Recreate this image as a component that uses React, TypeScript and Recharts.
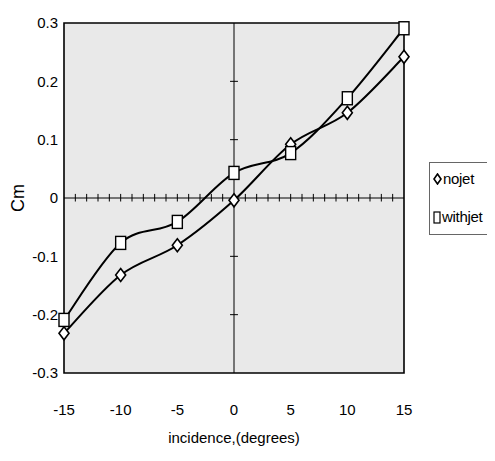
import React from "react";
import {
  LineChart,
  Line,
  XAxis,
  YAxis,
  ReferenceArea,
  ReferenceLine,
} from "recharts";

const incidence = [-15, -10, -5, 0, 5, 10, 15];
const noJet = [-0.232, -0.132, -0.081, -0.004, 0.092, 0.146, 0.242];
const withJet = [-0.209, -0.077, -0.041, 0.043, 0.077, 0.171, 0.291];
const xTicks = [-15, -10, -5, 0, 5, 10, 15];
const yTicks = [-0.3, -0.2, -0.1, 0, 0.1, 0.2, 0.3];
const xMinorTicks = [
  -14, -13, -12, -11, -10, -9, -8, -7, -6, -5, -4, -3, -2, -1, 1, 2, 3, 4, 5, 6,
  7, 8, 9, 10, 11, 12, 13, 14,
];
const yMinorTicks = [-0.2, -0.1, 0.1, 0.2];
const seriesNames = ["nojet", "withjet"];

const data = incidence.map((x, i) => ({ x, noJet: noJet[i], withJet: withJet[i] }));

const FONT = "'Liberation Sans Narrow', 'Liberation Sans', Arial, sans-serif";

// Catmull-Rom style smoothing (like spreadsheet "smoothed line")
const smoothCurve = (context: any) => {
  let pts: number[][] = [];
  return {
    areaStart() {},
    areaEnd() {},
    lineStart() {
      pts = [];
    },
    point(x: number, y: number) {
      pts.push([+x, +y]);
    },
    lineEnd() {
      if (!pts.length) return;
      context.moveTo(pts[0][0], pts[0][1]);
      const t = 1 / 6;
      for (let i = 0; i < pts.length - 1; i++) {
        const p0 = pts[i - 1] || pts[i];
        const p1 = pts[i];
        const p2 = pts[i + 1];
        const p3 = pts[i + 2] || p2;
        context.bezierCurveTo(
          p1[0] + (p2[0] - p0[0]) * t,
          p1[1] + (p2[1] - p0[1]) * t,
          p2[0] - (p3[0] - p1[0]) * t,
          p2[1] - (p3[1] - p1[1]) * t,
          p2[0],
          p2[1]
        );
      }
    },
  };
};

const Diamond = (props: any) => {
  const { cx, cy } = props;
  if (cx == null || cy == null) return <g key={props.key} />;
  return (
    <path
      key={props.key}
      d={`M${cx},${cy - 6.5} L${cx + 5},${cy} L${cx},${cy + 6.5} L${cx - 5},${cy} Z`}
      fill="#fff"
      stroke="#000"
      strokeWidth={1.6}
    />
  );
};

const Square = (props: any) => {
  const { cx, cy } = props;
  if (cx == null || cy == null) return <g key={props.key} />;
  return (
    <rect
      key={props.key}
      x={cx - 5}
      y={cy - 6.5}
      width={10}
      height={13}
      fill="#fff"
      stroke="#000"
      strokeWidth={1.4}
    />
  );
};

const LegendBox = () => (
  <div
    style={{
      position: "absolute",
      left: 421,
      top: 154,
      width: 64,
      boxSizing: "border-box",
      border: "1px solid #666",
      background: "#fff",
      fontFamily: FONT,
      fontSize: 15,
      padding: "7px 2px 8px 3px",
      lineHeight: "18px",
      color: "#000",
      whiteSpace: "nowrap",
      letterSpacing: "-0.3px",
    }}
  >
    <div style={{ display: "flex", alignItems: "center", marginBottom: 20 }}>
      <svg width={9} height={12} style={{ marginRight: 1 }}>
        <path d="M4.5,1 L8,6 L4.5,11 L1,6 Z" fill="#fff" stroke="#000" strokeWidth={1.6} />
      </svg>
      <span>{seriesNames[0]}</span>
    </div>
    <div style={{ display: "flex", alignItems: "center" }}>
      <svg width={8} height={13} style={{ marginRight: 1 }}>
        <rect x={1} y={1} width={6} height={11} fill="#fff" stroke="#000" strokeWidth={1.2} />
      </svg>
      <span>{seriesNames[1]}</span>
    </div>
  </div>
);

export default function App() {
  return (
    <div style={{ width: 487, height: 445, position: "relative" }}>
      <LineChart
        width={487}
        height={445}
        data={data}
        margin={{ top: 15, right: 91, bottom: 10, left: 0 }}
      >
        <XAxis
          dataKey="x"
          type="number"
          domain={[-15, 15]}
          ticks={xTicks}
          axisLine={false}
          tickLine={false}
          tickSize={6}
          tickMargin={25}
          height={70}
          tick={{ fill: "#000", fontSize: 15, fontFamily: FONT }}
          label={{
            value: "incidence,(degrees)",
            position: "insideBottom",
            offset: 0,
            style: { fill: "#000", fontSize: 15, fontFamily: FONT },
          }}
        />
        <YAxis
          type="number"
          domain={[-0.3, 0.3]}
          ticks={yTicks}
          axisLine={false}
          tickLine={false}
          tickSize={6}
          tickMargin={0}
          width={56}
          tickFormatter={(v: number) => (v === 0 ? "0" : v.toFixed(1))}
          tick={{ fill: "#000", fontSize: 15, fontFamily: FONT }}
          label={{
            value: "Cm",
            angle: -90,
            position: "insideLeft",
            offset: 10,
            style: { textAnchor: "middle", fill: "#000", fontSize: 18, fontFamily: FONT },
          }}
        />
        <ReferenceArea
          x1={-15}
          x2={15}
          y1={-0.3}
          y2={0.3}
          fill="#e9e9e9"
          fillOpacity={1}
          stroke="#000"
          strokeWidth={1.6}
        />
        <ReferenceLine y={0} stroke="#000" strokeWidth={1} />
        <ReferenceLine x={0} stroke="#000" strokeWidth={1} />
        {xMinorTicks.map((t) => (
          <ReferenceLine
            key={"xt" + t}
            segment={[
              { x: t, y: -0.006 },
              { x: t, y: 0.007 },
            ]}
            stroke="#000"
            strokeWidth={1}
          />
        ))}
        {yMinorTicks.map((t) => (
          <ReferenceLine
            key={"yt" + t}
            segment={[
              { x: -0.35, y: t },
              { x: 0.35, y: t },
            ]}
            stroke="#000"
            strokeWidth={1}
          />
        ))}
        <Line
          dataKey="noJet"
          name={seriesNames[0]}
          type={smoothCurve as any}
          stroke="#000"
          strokeWidth={2}
          dot={(p: any) => <Diamond {...p} />}
          activeDot={false}
          isAnimationActive={false}
        />
        <Line
          dataKey="withJet"
          name={seriesNames[1]}
          type={smoothCurve as any}
          stroke="#000"
          strokeWidth={2}
          dot={(p: any) => <Square {...p} />}
          activeDot={false}
          isAnimationActive={false}
        />
      </LineChart>
      <LegendBox />
    </div>
  );
}
